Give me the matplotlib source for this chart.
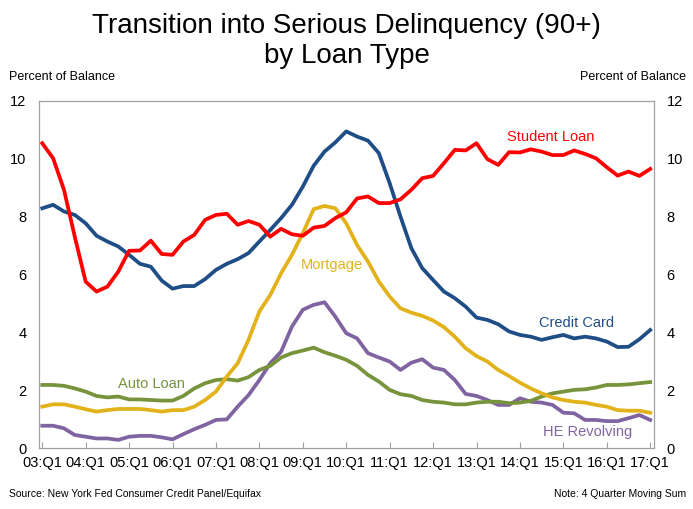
import matplotlib
matplotlib.use("Agg")
import matplotlib.pyplot as plt
import numpy as np

plt.rcParams["font.family"] = ["Liberation Sans", "DejaVu Sans"]

# quarterly, 03:Q1 .. 17:Q1
quarters = np.arange(57)
xtick_labels = ["%02d:Q1" % y for y in range(3, 18)]

student_loan = [
    10.54, 10.02, 8.93, 7.3, 5.75, 5.41, 5.58, 6.1, 6.82, 6.83,
    7.17, 6.71, 6.68, 7.14, 7.37, 7.89, 8.06, 8.1, 7.72, 7.85,
    7.72, 7.31, 7.58, 7.39, 7.34, 7.62, 7.68, 7.95, 8.15, 8.63,
    8.7, 8.47, 8.47, 8.6, 8.93, 9.33, 9.41, 9.85, 10.31, 10.29,
    10.54, 9.99, 9.79, 10.23, 10.22, 10.33, 10.25, 10.13, 10.13, 10.29,
    10.17, 10.02, 9.71, 9.42, 9.56, 9.41, 9.65,
]
credit_card = [
    8.29, 8.41, 8.18, 8.06, 7.77, 7.34, 7.14, 6.97, 6.68, 6.37,
    6.27, 5.79, 5.51, 5.6, 5.6, 5.84, 6.16, 6.37, 6.53, 6.74,
    7.14, 7.54, 7.95, 8.41, 9.04, 9.76, 10.25, 10.57, 10.95, 10.77,
    10.63, 10.2, 9.16, 8.0, 6.91, 6.22, 5.81, 5.41, 5.18, 4.89,
    4.51, 4.43, 4.28, 4.03, 3.91, 3.85, 3.74, 3.83, 3.91, 3.79,
    3.85, 3.79, 3.68, 3.49, 3.5, 3.76, 4.08,
]
mortgage = [
    1.43, 1.51, 1.51, 1.43, 1.34, 1.26, 1.31, 1.35, 1.35, 1.35,
    1.31, 1.26, 1.31, 1.31, 1.43, 1.66, 1.95, 2.47, 2.93, 3.74,
    4.72, 5.29, 6.04, 6.68, 7.43, 8.26, 8.37, 8.29, 7.77, 7.02,
    6.45, 5.76, 5.24, 4.83, 4.68, 4.57, 4.41, 4.18, 3.85, 3.45,
    3.18, 2.99, 2.7, 2.49, 2.26, 2.06, 1.89, 1.75, 1.66, 1.6,
    1.57, 1.49, 1.43, 1.31, 1.29, 1.29, 1.22,
]
auto_loan = [
    2.18, 2.18, 2.15, 2.06, 1.95, 1.8, 1.75, 1.78, 1.68, 1.68,
    1.66, 1.64, 1.64, 1.8, 2.06, 2.24, 2.35, 2.38, 2.33, 2.45,
    2.7, 2.84, 3.13, 3.28, 3.37, 3.47, 3.31, 3.19, 3.05, 2.84,
    2.53, 2.3, 2.01, 1.86, 1.8, 1.66, 1.6, 1.57, 1.51, 1.51,
    1.57, 1.6, 1.6, 1.55, 1.57, 1.63, 1.78, 1.89, 1.95, 2.01,
    2.03, 2.09, 2.18, 2.18, 2.2, 2.24, 2.28,
]
he_revolving = [
    0.77, 0.77, 0.68, 0.45, 0.39, 0.33, 0.33, 0.28, 0.39, 0.42,
    0.42, 0.37, 0.3, 0.48, 0.65, 0.8, 0.97, 0.99, 1.43, 1.83,
    2.35, 2.93, 3.33, 4.2, 4.78, 4.95, 5.04, 4.54, 3.97, 3.79,
    3.28, 3.13, 2.99, 2.7, 2.95, 3.07, 2.78, 2.7, 2.35, 1.87,
    1.8, 1.66, 1.49, 1.49, 1.72, 1.6, 1.57, 1.49, 1.22, 1.2,
    0.97, 0.97, 0.93, 0.93, 1.03, 1.14, 0.97,
]

series = [
    ("Student Loan", student_loan, "#FF0000", (46.8, 10.74)),
    ("Credit Card", credit_card, "#1F4E86", (49.2, 4.31)),
    ("Mortgage", mortgage, "#E2B21A", (26.7, 6.33)),
    ("Auto Loan", auto_loan, "#77933C", (10.1, 2.2)),
    ("HE Revolving", he_revolving, "#8064A2", (50.2, 0.55)),
]

fig = plt.figure(figsize=(6.93, 5.09), dpi=100)
ax = fig.add_axes([39 / 693, 1 - 448 / 509, (654 - 39) / 693, (448 - 101) / 509])

# draw order: purple, green, gold, blue, red on top
for idx in [4, 3, 2, 1, 0]:
    name, vals, color, pos = series[idx]
    ax.plot(quarters, vals, color=color, linewidth=2.7, solid_joinstyle="round")
    ax.text(pos[0], pos[1], name, color=color, fontsize=10.5,
            ha="center", va="center")

ax.set_xlim(-0.3, 56.35)
ax.set_ylim(0, 12)
ax.set_xticks(np.arange(0, 57, 4))
ax.set_xticklabels(xtick_labels, fontsize=10.5)
ax.set_yticks(np.arange(0, 13, 2))
ax.tick_params(axis="x", direction="in", length=4, color="#A0A0A0", pad=6)
ax.tick_params(axis="y", length=0, labelsize=10.5, pad=9,
               labelleft=True, labelright=True)
for sp in ax.spines.values():
    sp.set_color("#A0A0A0")
    sp.set_linewidth(0.9)

fig.text(0.5, 1 - 33 / 509, "Transition into Serious Delinquency (90+)",
         ha="center", va="baseline", fontsize=20)
fig.text(0.5, 1 - 63 / 509, "by Loan Type",
         ha="center", va="baseline", fontsize=20)
fig.text(9 / 693, 1 - 80 / 509, "Percent of Balance", fontsize=9, va="baseline")
fig.text(686 / 693, 1 - 80 / 509, "Percent of Balance", fontsize=9,
         va="baseline", ha="right")
fig.text(9 / 693, 1 - 497 / 509, "Source: New York Fed Consumer Credit Panel/Equifax",
         fontsize=7.5, va="baseline")
fig.text(686 / 693, 1 - 497 / 509, "Note: 4 Quarter Moving Sum",
         fontsize=7.5, va="baseline", ha="right")

fig.savefig("out.png", dpi=100)
